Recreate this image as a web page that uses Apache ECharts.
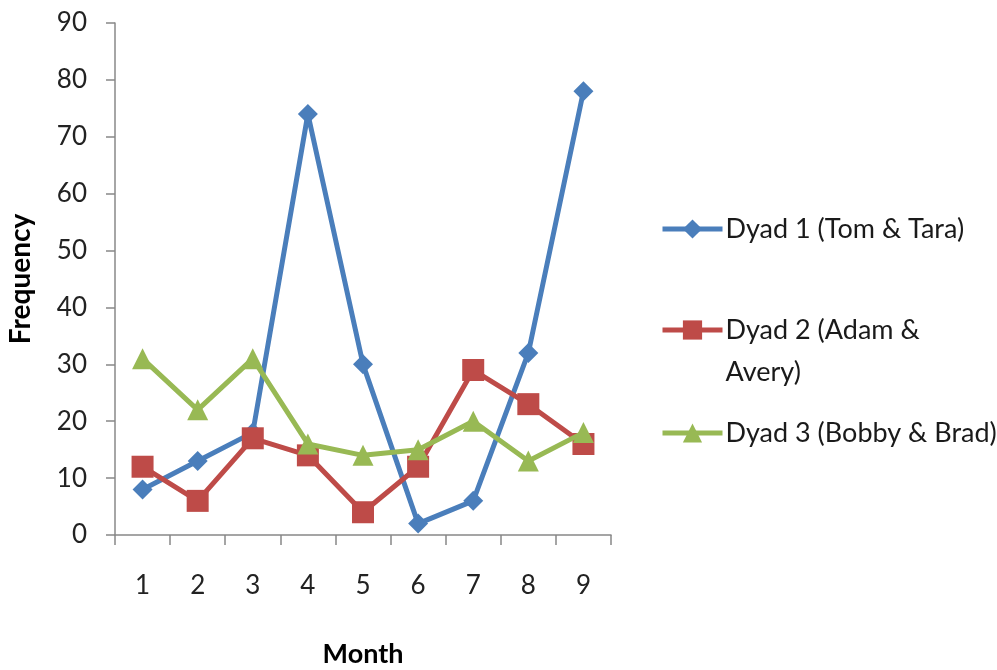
<!DOCTYPE html>
<html><head><meta charset="utf-8">
<script src="https://cdn.jsdelivr.net/npm/echarts@6/dist/echarts.min.js"></script>
<style>html,body{margin:0;padding:0;background:#fff}#c{width:997px;height:670px}</style>
</head><body><div id="c"></div>
<script>
const months = ['1','2','3','4','5','6','7','8','9'];
const dyad1 = [8, 13, 18, 74, 30, 2, 6, 32, 78];
const dyad2 = [12, 6, 17, 14, 4, 12, 29, 23, 16];
const dyad3 = [31, 22, 31, 16, 14, 15, 20, 13, 18];
const names = ['Dyad 1 (Tom & Tara)', 'Dyad 2 (Adam & Avery)', 'Dyad 3 (Bobby & Brad)'];
const yTicks = { min: 0, max: 90, interval: 10 };

const font = 'Lato, "Open Sans", sans-serif';
const chart = echarts.init(document.getElementById('c'), null, {renderer: 'canvas'});
const legendBase = {
  left: 655, orient: 'vertical', itemWidth: 60, itemHeight: 24, itemGap: 6,
  lineStyle: {width: 5},
  textStyle: {fontFamily: font, fontSize: 27, color: '#1a1a1a', lineHeight: 42, padding: [0, 0, 0, -2]}
};
chart.setOption({
  animation: false,
  grid: {left: 115, right: 386, top: 23, bottom: 135, outerBoundsMode: 'none', containLabel: false},
  legend: [
    Object.assign({}, legendBase, {data: [names[0]], top: 203}),
    Object.assign({}, legendBase, {data: [names[1]], top: 262,
      formatter: () => ' \nDyad 2 (Adam &\nAvery)'}),
    Object.assign({}, legendBase, {data: [names[2]], top: 407})
  ],
  xAxis: {
    type: 'category', data: months, boundaryGap: true,
    name: 'Month', nameLocation: 'middle', nameGap: 106,
    nameTextStyle: {fontFamily: font, fontSize: 27, fontWeight: 'bold', color: '#000'},
    axisLine: {lineStyle: {color: '#888', width: 1.5}},
    axisTick: {show: true, length: 10, inside: false, lineStyle: {color: '#888', width: 1.5}},
    axisLabel: {fontFamily: font, fontSize: 26, color: '#222', margin: 38},
    splitLine: {show: false}
  },
  yAxis: {
    type: 'value', min: yTicks.min, max: yTicks.max, interval: yTicks.interval,
    name: 'Frequency', nameLocation: 'middle', nameGap: 80, nameRotate: 90,
    nameTextStyle: {fontFamily: font, fontSize: 28, fontWeight: 'bold', color: '#000'},
    axisLine: {show: true, lineStyle: {color: '#888', width: 1.5}},
    axisTick: {show: true, length: 9, lineStyle: {color: '#888', width: 1.5}},
    axisLabel: {fontFamily: font, fontSize: 26, color: '#222', margin: 28},
    splitLine: {show: false}
  },
  series: [
    {name: names[0], type: 'line', data: dyad1, symbol: 'diamond', symbolSize: 20,
     lineStyle: {width: 5, color: '#4A7EBB'}, itemStyle: {color: '#4A7EBB'}, z: 2},
    {name: names[1], type: 'line', data: dyad2, symbol: 'rect', symbolSize: 22,
     lineStyle: {width: 5, color: '#BE4B48'}, itemStyle: {color: '#BE4B48'}, z: 3},
    {name: names[2], type: 'line', data: dyad3, symbol: 'triangle', symbolSize: 21,
     lineStyle: {width: 5, color: '#98B954'}, itemStyle: {color: '#98B954'}, z: 4}
  ]
});
</script></body></html>
